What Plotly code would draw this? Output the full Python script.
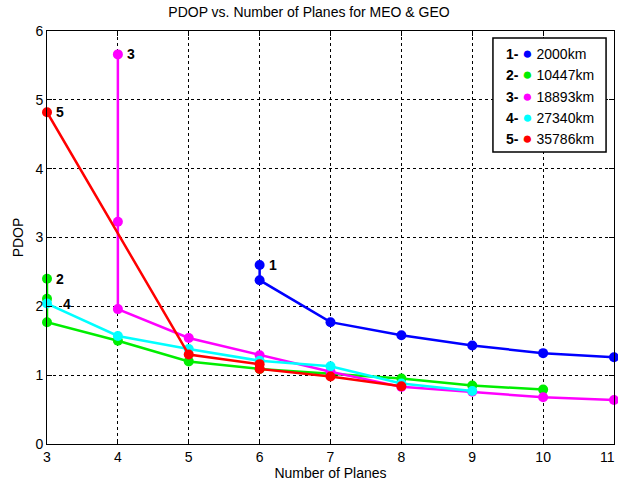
import plotly.graph_objects as go

# Data
x1 = [6, 6, 7, 8, 9, 10, 11]
y1 = [2.60, 2.38, 1.77, 1.58, 1.43, 1.32, 1.26]
x2 = [3, 3, 3, 4, 5, 6, 7, 8, 9, 10]
y2 = [2.40, 2.11, 1.77, 1.50, 1.20, 1.09, 1.02, 0.95, 0.85, 0.79]
x3 = [4, 4, 4, 5, 6, 7, 8, 9, 10, 11]
y3 = [5.66, 3.23, 1.96, 1.54, 1.29, 1.05, 0.83, 0.76, 0.68, 0.64]
x4 = [3, 4, 5, 6, 7, 8, 9]
y4 = [2.04, 1.57, 1.38, 1.21, 1.13, 0.88, 0.77]
x5 = [3, 5, 6, 6, 7, 8]
y5 = [4.82, 1.30, 1.16, 1.09, 0.98, 0.84]

names = ["2000km", "10447km", "18893km", "27340km", "35786km"]
labels = ["1-", "2-", "3-", "4-", "5-"]
colors = ["#0000ff", "#00ee00", "#ff00ff", "#00ffff", "#ff0000"]
xs = [x1, x2, x3, x4, x5]
ys = [y1, y2, y3, y4, y5]
xticks = [3, 4, 5, 6, 7, 8, 9, 10, 11]

FONT = "Liberation Sans"

fig = go.Figure()
for x, y, n, c in zip(xs, ys, names, colors):
    fig.add_trace(go.Scatter(x=x, y=y, mode="lines+markers", name=n,
                             line=dict(color=c, width=2.5),
                             marker=dict(color=c, size=10),
                             cliponaxis=False, showlegend=False))

# series number labels near first points
tags = [("1", x1[0], y1[0]), ("2", x2[0], y2[0]), ("3", x3[0], y3[0]),
        ("4", x4[0], y4[0]), ("5", x5[0], y5[0])]
for t, xx, yy in tags:
    fig.add_annotation(x=xx, y=yy, text="<b>%s</b>" % t, showarrow=False,
                       xanchor="left", xshift=7 if t != "4" else 14,
                       font=dict(size=14, color="black", family=FONT))

# manual legend box
fig.add_shape(type="rect", xref="paper", yref="paper", x0=0.7865, x1=0.986, y0=0.707, y1=0.983,
              line=dict(color="black", width=1.5), fillcolor="white", layer="above")
for i, (lab, n, c) in enumerate(zip(labels, names, colors)):
    fig.add_annotation(xref="paper", yref="paper", x=0.806, y=0.945 - i * 0.0515,
                       xanchor="left", yanchor="middle", showarrow=False,
                       text="<b>%s</b> <span style='color:%s;font-size:17px'>●</span> %s" % (lab, c, n),
                       font=dict(size=14, color="black", family=FONT))

fig.update_layout(
    width=618, height=487,
    margin=dict(l=47, r=4, t=31, b=43),
    plot_bgcolor="white", paper_bgcolor="white",
    title=dict(text="PDOP vs. Number of Planes for MEO &amp; GEO", x=0.5, xanchor="center",
               y=0.985, yanchor="top", font=dict(size=14, color="black", family=FONT)),
    font=dict(family=FONT, size=14, color="black"),
)
fig.update_xaxes(range=[3, 11], tickvals=xticks[:-1], showgrid=True, gridcolor="black", griddash="dot",
                 gridwidth=1, showline=True, linecolor="black", linewidth=1, mirror="ticks",
                 ticks="inside", ticklen=5, tickcolor="black", zeroline=False,
                 title=dict(text="Number of Planes", standoff=2, font=dict(size=14)))
fig.update_yaxes(range=[0, 6], dtick=1, showgrid=True, gridcolor="black", griddash="dot",
                 gridwidth=1, showline=True, linecolor="black", linewidth=1, mirror="ticks",
                 ticks="inside", ticklen=5, tickcolor="black", zeroline=False,
                 title=dict(text="PDOP", standoff=8, font=dict(size=14)))

# last x tick label, placed so it stays inside the picture at the right edge
fig.add_annotation(x=xticks[-1], y=0, yref="y", text=str(xticks[-1]), showarrow=False,
                   yanchor="top", yshift=-3, xanchor="right", xshift=3,
                   font=dict(size=14, color="black", family=FONT))

fig.write_html("out.html")
